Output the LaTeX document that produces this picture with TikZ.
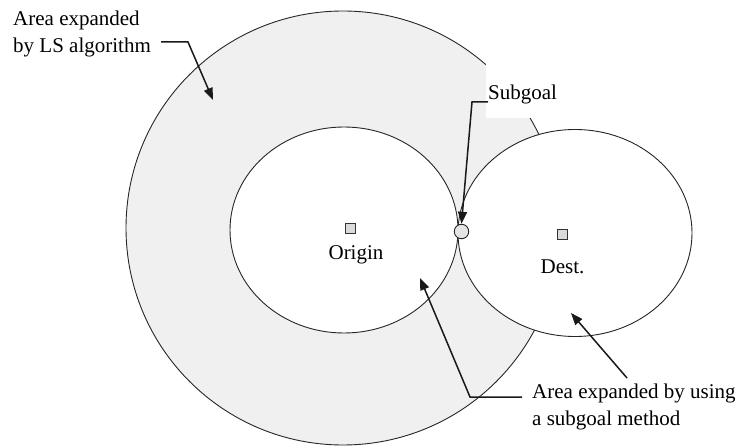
\documentclass[tikz,border=0pt]{standalone}
\usepackage{fontspec}
\setmainfont{Liberation Serif}
\usetikzlibrary{arrows.meta}
\definecolor{zonegray}{HTML}{F0F0F0}
\definecolor{markgray}{HTML}{DADADA}
\begin{document}
\begin{tikzpicture}[x=1pt,y=-1pt,
  outline/.style={draw=black!85,line width=0.9pt},
  label/.style={inner sep=0pt,font=\fontsize{21}{27}\selectfont},
  arr/.style={draw=black!90,line width=1.5pt,-{Triangle[length=12pt,width=9pt]}},
  endmark/.style={draw=black!80,fill=markgray,line width=0.6pt,minimum size=10pt,inner sep=0pt}]
  \useasboundingbox (0,0) rectangle (741,446);

  % region swept by the LS search
  \fill[zonegray] (343,228) circle [radius=217];
  \draw[outline] (343,228) circle [radius=217];

  % regions swept from each end when a subgoal is used
  \fill[white] (344,230) ellipse [x radius=114, y radius=103];
  \fill[white] (575,233) ellipse [x radius=117, y radius=103.5];
  \draw[outline] (344,230) ellipse [x radius=114, y radius=103];
  \draw[outline] (575,233) ellipse [x radius=117, y radius=103.5];

  % end points and subgoal
  \node[endmark] (orig) at (350.5,228) {};
  \node[endmark] (dest) at (562,234) {};
  \node[circle,draw=black!85,fill=black!10,line width=0.9pt,minimum size=14.5pt,inner sep=0pt] (sub) at (461.5,231.5) {};

  \node[label,anchor=base] (origtxt) at (356,260) {Origin};
  \node[label,anchor=base] (desttxt) at (562.5,273) {Dest.};

  % subgoal label on a white patch
  \fill[white] (486,55) rectangle (570,118);
  \node[label,anchor=base west] (subtxt) at (488,100) {Subgoal};

  % labels of the areas
  \node[label,anchor=base west] (lsA) at (13,26) {Area expanded};
  \node[label,anchor=base west] (lsB) at (13,53) {by LS algorithm};
  \node[label,anchor=base west] (sgA) at (532,398) {Area expanded by using};
  \node[label,anchor=base west] (sgB) at (532,425) {a subgoal method};

  % leader arrows
  \coordinate (lsTip) at (213,100);
  \coordinate (origTip) at (420,278);
  \coordinate (destTip) at (571,313);
  \coordinate (destTail) at (627,378);

  \draw[arr] ([xshift=10pt]lsB.east |- 0,42) -- (188,42) -- (lsTip);
  \draw[arr] (subtxt.west |- 0,102) -- (472,102) -- (sub.north);
  \draw[arr] ([xshift=-10pt]sgA.west |- 0,397) -- (470,397) -- (origTip);
  \draw[arr] (destTail) -- (destTip);
\end{tikzpicture}
\end{document}
